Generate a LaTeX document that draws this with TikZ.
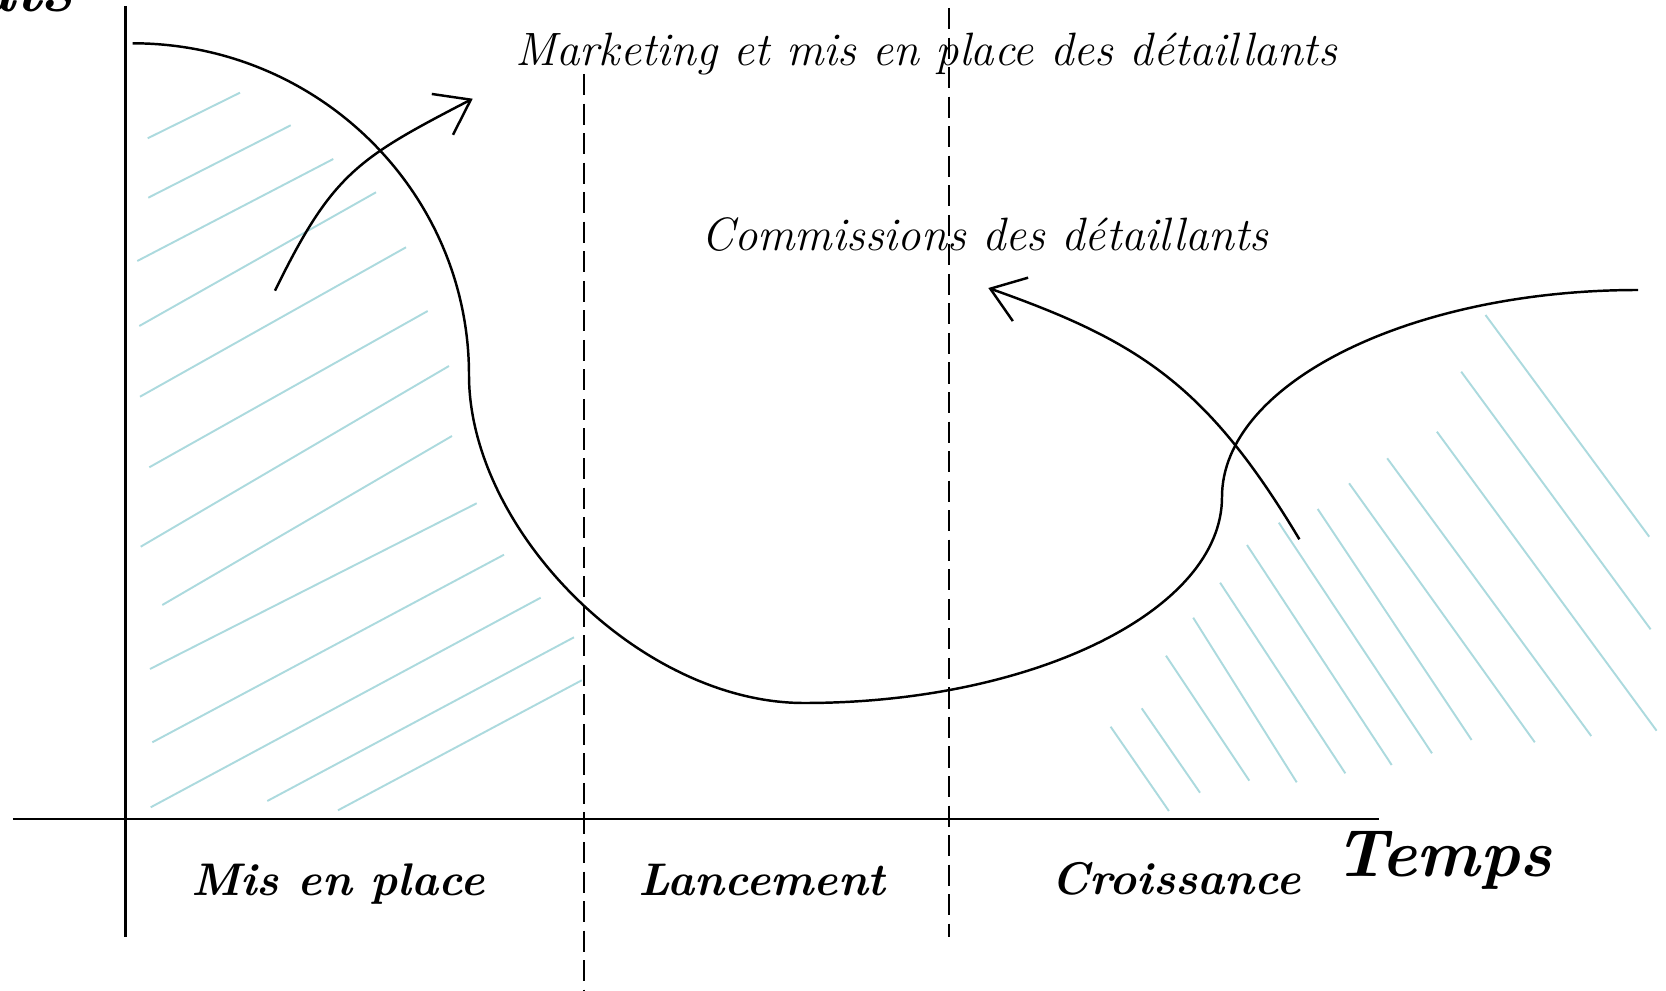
\documentclass[tikz,border=0pt]{standalone}
\usetikzlibrary{arrows.meta}
\definecolor{hatchblue}{RGB}{172,218,222}
\begin{document}
\begin{tikzpicture}[x=0.01cm,y=-0.01cm,
  axisline/.style={line width=0.75pt,black},
  mainline/.style={line width=0.7pt,black},
  divider/.style={line width=0.65pt,black,dash pattern=on 6pt off 2.4pt},
  hatchline/.style={line width=0.55pt,hatchblue},
  flow/.style={line width=0.7pt,-{Straight Barb[length=0.32cm,width=0.46cm,line width=0.7pt]}},
  toplabel/.style={font=\fontsize{13.3}{15}\selectfont\itshape,inner sep=0pt},
  phaselabel/.style={font=\fontsize{13}{15}\selectfont\bfseries\itshape,inner sep=0pt},
  biglabel/.style={font=\fontsize{19}{22}\selectfont\bfseries\itshape,inner sep=0pt}]
\useasboundingbox (0,0) rectangle (1666,991);

% y-axis label, cut off at the top edge as in the original
\begin{scope}
\clip (0,0) rectangle (1666,991);
\node[biglabel,anchor=base east] (ylabel) at (74,12) {Coûts};
\end{scope}

% hatching, left region
\foreach \ax/\ay/\bx/\by in {
  147.7/138.3/240/92.7, 148.3/197.7/290.7/125.3, 137.3/261/333.3/159,
  139.3/326/376/192.3, 140/396.7/406/247.3, 149.3/467.3/427.7/311,
  140.7/546.7/449/366, 162.3/605/452/436, 150/669/476.7/503.3,
  152.3/742.3/504/554.7, 150.7/807.3/540.7/597.7, 267.3/801/574/637.3,
  338/810.3/581.7/680.3}
  \draw[hatchline] (\ax,\ay) -- (\bx,\by);

% hatching, right region
\foreach \ax/\ay/\bx/\by in {
  1485.5/315/1649.2/536.7, 1461.2/371.7/1650.6/629.3, 1436.9/431.7/1656.6/730.7,
  1387.2/458.3/1591.2/736, 1349.1/483.3/1534.8/742.3, 1317.7/509/1471.6/740,
  1278.8/522.7/1432/753.3, 1247/545/1391.7/765, 1220.1/582.7/1345.3/773.3,
  1193.2/617.7/1296.7/782.3, 1166/655.7/1249.3/780.7, 1141.7/708.3/1200/792.7,
  1110.6/726.7/1168.9/811}
  \draw[hatchline] (\ax,\ay) -- (\bx,\by);

% axes
\coordinate (yTop) at (125.3,6);
\coordinate (yBot) at (125.3,937);
\coordinate (xL) at (12.75,819);
\coordinate (xR) at (1379,819);
\draw[axisline] (yTop) -- (yBot);
\draw[axisline] (xL) -- (xR);

% phase dividers
\coordinate (d1t) at (584.3,74);
\coordinate (d1b) at (584.3,991);
\coordinate (d2t) at (948.8,8);
\coordinate (d2b) at (948.8,937);
\draw[divider] (d1t) -- (d1b);
\draw[divider] (d2t) -- (d2b);

% main curve
\coordinate (c0) at (132.7,43.3);
\coordinate (c1) at (469,375);
\coordinate (c2) at (804,703);
\coordinate (c3) at (1222,497);
\coordinate (c4) at (1638,290);
\draw[mainline] (c0) .. controls (318,43.3) and (469,192) .. (c1)
  .. controls (469,530) and (640,703) .. (c2)
  .. controls (1034,703) and (1222,610) .. (c3)
  .. controls (1222,384) and (1409,290) .. (c4);

% arrows
\coordinate (a1s) at (275,290.7);
\coordinate (a1e) at (472.7,98.7);
\draw[flow] (a1s) .. controls (332.2,173.7) and (357.3,158.5) .. (a1e);
\coordinate (a2s) at (1299.4,539.3);
\coordinate (a2e) at (988.3,288);
\draw[flow] (a2s) .. controls (1206.9,384.9) and (1139.2,341.3) .. (a2e);

% labels
\node[toplabel,anchor=base] (mkt) at (926,66) {Marketing et mis en place des détaillants};
\node[toplabel,anchor=base] (com) at (985,251) {Commissions des détaillants};
\node[phaselabel,anchor=base] (p1) at (338,895) {Mis en place};
\node[phaselabel,anchor=base] (p2) at (762,895) {Lancement};
\node[phaselabel,anchor=base] (p3) at (1176,894) {Croissance};
\node[biglabel,anchor=base] (tps) at (1443,876) {Temps};
\end{tikzpicture}
\end{document}
